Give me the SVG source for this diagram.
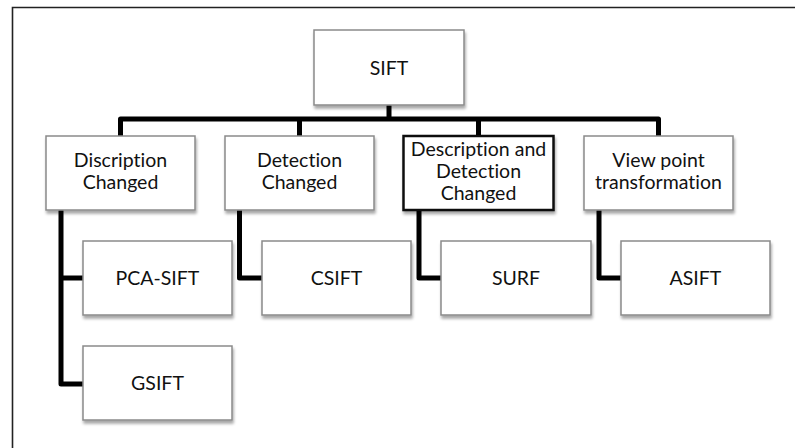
<svg xmlns="http://www.w3.org/2000/svg" width="795" height="448" viewBox="0 0 795 448">
<defs>
<filter id="sh" x="-10%" y="-10%" width="130%" height="140%">
<feGaussianBlur in="SourceAlpha" stdDeviation="1.5"/>
<feOffset dx="1" dy="3" result="b"/>
<feComponentTransfer><feFuncA type="linear" slope="0.35"/></feComponentTransfer>
<feMerge><feMergeNode/><feMergeNode in="SourceGraphic"/></feMerge>
</filter>
</defs>
<style>
.box{fill:#fff;stroke:#8a8a8a;stroke-width:1.5;filter:url(#sh)}
.bold{fill:#fff;stroke:#111;stroke-width:2.5;filter:url(#sh)}
.t{font-family:Lato,"Open Sans","Liberation Sans",sans-serif;font-size:19.5px;fill:#111;text-anchor:middle;font-variant-ligatures:none}
.c{fill:none;stroke:#000;stroke-width:5;stroke-linejoin:round}
</style>
<rect width="795" height="448" fill="#fff"/>
<path d="M12.5 448V7.5H795" fill="none" stroke="#222" stroke-width="1.6"/>
<g id="connectors">
<path class="c" d="M389 105V119"/>
<path class="c" d="M120.5 136V119H658.5V136"/>
<path class="c" d="M299.5 119V136"/>
<path class="c" d="M478.5 119V136"/>
<path class="c" d="M61 210V384H83"/>
<path class="c" d="M61 278H83"/>
<path class="c" d="M239.5 210V278H262"/>
<path class="c" d="M419 210V278H441"/>
<path class="c" d="M599 210V278H621"/>
</g>
<g id="sift"><rect class="box" x="314" y="30" width="150" height="75"/><text class="t" x="389" y="75">SIFT</text></g>
<g id="discription"><rect class="box" x="46" y="136" width="149" height="74"/><text class="t" x="120.5" y="167">Discription</text><text class="t" x="120.5" y="189">Changed</text></g>
<g id="detection"><rect class="box" x="225" y="136" width="149" height="74"/><text class="t" x="299.5" y="167">Detection</text><text class="t" x="299.5" y="189">Changed</text></g>
<g id="descdet"><rect class="bold" x="403.5" y="136" width="150" height="74"/><text class="t" x="478.5" y="156">Description and</text><text class="t" x="478.5" y="178">Detection</text><text class="t" x="478.5" y="200">Changed</text></g>
<g id="viewpoint"><rect class="box" x="584" y="136" width="149" height="74"/><text class="t" x="658.5" y="167">View point</text><text class="t" x="658.5" y="189">transformation</text></g>
<g id="pcasift"><rect class="box" x="83" y="241" width="149" height="74"/><text class="t" x="157.5" y="285">PCA-SIFT</text></g>
<g id="gsift"><rect class="box" x="83" y="346" width="149" height="74"/><text class="t" x="157.5" y="390">GSIFT</text></g>
<g id="csift"><rect class="box" x="262" y="241" width="149" height="74"/><text class="t" x="336.5" y="285">CSIFT</text></g>
<g id="surf"><rect class="box" x="441" y="241" width="150" height="74"/><text class="t" x="516" y="285">SURF</text></g>
<g id="asift"><rect class="box" x="621" y="241" width="149" height="74"/><text class="t" x="695.5" y="285">ASIFT</text></g>
</svg>
